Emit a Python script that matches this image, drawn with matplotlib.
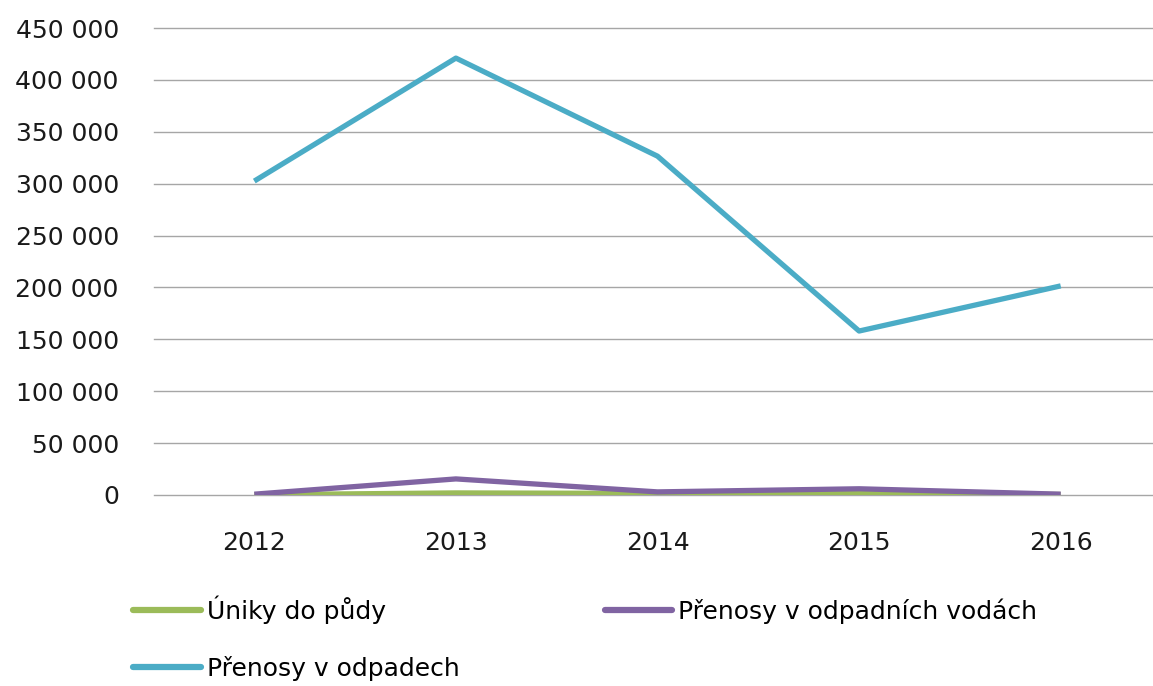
import matplotlib.pyplot as plt
from matplotlib.ticker import FuncFormatter

# Data
years = ['2012', '2013', '2014', '2015', '2016']
uniky_do_pudy = [300, 2000, 1500, 2000, 500]
prenosy_odpadni_vody = [800, 15500, 3000, 6000, 800]
prenosy_odpady = [302500, 421000, 326500, 158000, 201500]

labels = ['Úniky do půdy', 'Přenosy v odpadních vodách', 'Přenosy v odpadech']
colors = ['#9BBB59', '#8064A2', '#4BACC6']

plt.rcParams['font.family'] = ['DejaVu Sans']

fig = plt.figure(figsize=(11.53, 6.86), dpi=100)
ax = fig.add_axes([153.5 / 1153, 191 / 686, 1008 / 1153, 467 / 686])

x = range(len(years))
h1, = ax.plot(x, uniky_do_pudy, color=colors[0], lw=3.8, solid_capstyle='butt', label=labels[0], zorder=3)
h2, = ax.plot(x, prenosy_odpadni_vody, color=colors[1], lw=3.8, solid_capstyle='butt', label=labels[1], zorder=3)
h3, = ax.plot(x, prenosy_odpady, color=colors[2], lw=3.8, solid_capstyle='butt', label=labels[2], zorder=3)

ax.set_xlim(-0.5, len(years) - 0.5)
ax.set_ylim(0, 450000)
ax.set_yticks(range(0, 450001, 50000))
ax.yaxis.set_major_formatter(FuncFormatter(lambda v, p: f'{int(v):,}'.replace(',', ' ')))
ax.set_xticks(list(x))
ax.set_xticklabels(years)

ax.grid(axis='y', color='#A6A6A6', lw=1.0)
for gl in ax.get_ygridlines():
    gl.set_clip_on(False)
ax.set_axisbelow(True)
for s in ax.spines.values():
    s.set_visible(False)
ax.tick_params(axis='both', length=0, labelsize=18, colors='#1a1a1a')
ax.tick_params(axis='y', pad=25)
ax.tick_params(axis='x', pad=26)

# row-major order: green, purple / cyan
leg = fig.legend([h1, h3, h2], [labels[0], labels[2], labels[1]], ncol=2,
                 loc='upper left', bbox_to_anchor=(133 / 1153, 1 - 595 / 686),
                 frameon=False, fontsize=18, handlelength=2.7, handletextpad=0.25,
                 columnspacing=5.8, labelspacing=1.3, borderaxespad=0, borderpad=0)
for line in leg.get_lines():
    line.set_linewidth(4.5)
    line.set_solid_capstyle('round')

fig.savefig('out.png', dpi=100)
